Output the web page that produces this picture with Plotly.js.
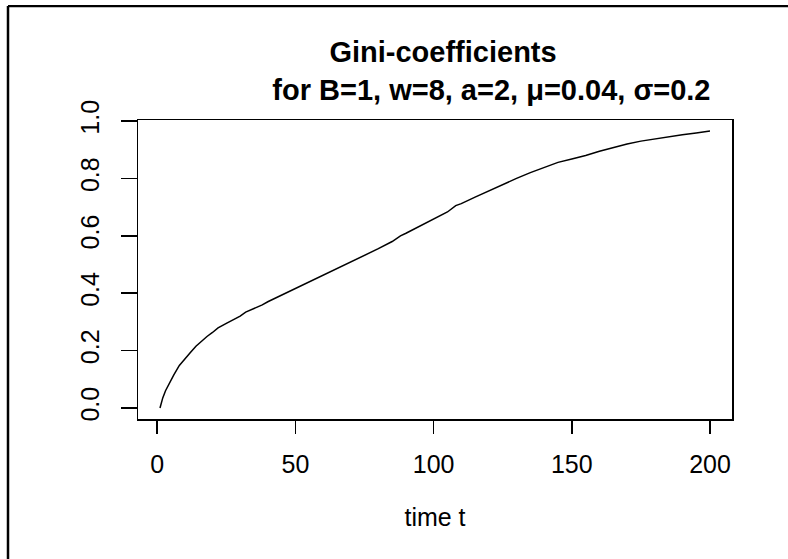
<!DOCTYPE html>
<html>
<head>
<meta charset="utf-8">
<script src="https://cdn.plot.ly/plotly-3.0.1.min.js"></script>
<style>
  html, body { margin: 0; padding: 0; background: #ffffff; }
  #chart { width: 788px; height: 559px; }
</style>
</head>
<body>
<div id="chart"></div>
<script>
// time points
const timeT = [1, 2, 3, 4, 5, 6, 8, 10, 12, 14, 16, 18, 20, 22, 25, 28, 30, 32, 35, 38,
  40, 45, 50, 55, 60, 65, 70, 75, 80, 85, 88, 90, 95, 100, 105, 108, 110, 115, 120, 125,
  130, 135, 140, 145, 150, 155, 160, 165, 170, 175, 180, 185, 190, 195, 200];
// Gini-coefficient values
const gini = [0.000, 0.035, 0.060, 0.080, 0.098, 0.115, 0.148, 0.172, 0.193, 0.215, 0.233, 0.249,
  0.263, 0.279, 0.295, 0.311, 0.320, 0.334, 0.346, 0.359,
  0.370, 0.393, 0.416, 0.440, 0.461, 0.484, 0.507, 0.530, 0.555, 0.580, 0.600, 0.609,
  0.633, 0.657, 0.683, 0.705, 0.712, 0.735, 0.757, 0.778,
  0.800, 0.820, 0.839, 0.856, 0.868, 0.880, 0.895, 0.908, 0.920, 0.930, 0.938, 0.945,
  0.952, 0.958, 0.965];
const xTicks = [0, 50, 100, 150, 200];
const yTicks = [0.0, 0.2, 0.4, 0.6, 0.8, 1.0];
const yTickText = ["0.0", "0.2", "0.4", "0.6", "0.8", "1.0"];
const titleLine1 = "Gini-coefficients";
const titleLine2 = "for B=1, w=8, a=2, \u03bc=0.04, \u03c3=0.2";
const xLabel = "time t";

const FONT = "Liberation Sans, Arial, sans-serif";
const nb = n => "\u00a0".repeat(n);

const trace = {
  x: timeT,
  y: gini,
  type: "scatter",
  mode: "lines",
  line: { color: "#000000", width: 1.5 },
  hoverinfo: "skip"
};

const layout = {
  width: 788,
  height: 559,
  margin: { l: 138, r: 56, t: 120, b: 140 },
  paper_bgcolor: "#ffffff",
  plot_bgcolor: "#ffffff",
  showlegend: false,
  font: { family: FONT, color: "#000000", size: 25 },
  title: {
    text: "<b>" + nb(2) + titleLine1 + "<br>" + nb(14) + titleLine2 + "</b>",
    font: { family: FONT, size: 29, color: "#000000" },
    xref: "paper",
    x: 0.5,
    xanchor: "center",
    yref: "container",
    y: 1 - 62 / 559,
    yanchor: "middle"
  },
  xaxis: {
    range: [-6.96, 207.96],
    tickmode: "array",
    tickvals: xTicks,
    ticktext: xTicks.map(String),
    ticks: "outside",
    ticklen: 13,
    tickwidth: 1.5,
    tickcolor: "#000000",
    ticklabelstandoff: 9,
    showline: true,
    linecolor: "#000000",
    linewidth: 1.5,
    mirror: true,
    showgrid: false,
    zeroline: false,
    tickfont: { family: FONT, size: 25, color: "#000000" },
    title: { text: xLabel, font: { family: FONT, size: 25, color: "#000000" }, standoff: 32 }
  },
  yaxis: {
    range: [-0.0386, 1.0036],
    tickmode: "array",
    tickvals: yTicks,
    ticktext: yTickText,
    tickangle: -90,
    ticks: "outside",
    ticklen: 16,
    tickwidth: 1.5,
    tickcolor: "#000000",
    ticklabelstandoff: 12,
    showline: true,
    linecolor: "#000000",
    linewidth: 1.5,
    mirror: true,
    showgrid: false,
    zeroline: false,
    tickfont: { family: FONT, size: 25, color: "#000000" }
  },
  shapes: [
    { type: "line", xref: "paper", yref: "paper",
      x0: (8 - 138) / 594, x1: (800 - 138) / 594,
      y0: (419.3 - 6) / 299.3, y1: (419.3 - 6) / 299.3,
      line: { color: "#000000", width: 2.2 } },
    { type: "line", xref: "paper", yref: "paper",
      x0: (8 - 138) / 594, x1: (8 - 138) / 594,
      y0: (419.3 - 6) / 299.3, y1: (419.3 - 570) / 299.3,
      line: { color: "#000000", width: 2.5 } }
  ]
};

Plotly.newPlot("chart", [trace], layout, { displayModeBar: false, staticPlot: true });
</script>
</body>
</html>
